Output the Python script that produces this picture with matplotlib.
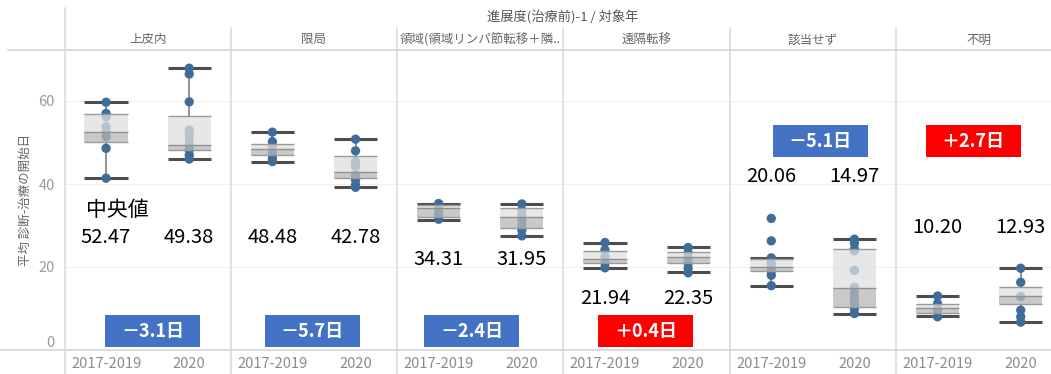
import matplotlib
matplotlib.use("Agg")
import matplotlib.pyplot as plt
from matplotlib.patches import Rectangle
from matplotlib.lines import Line2D

plt.rcParams['font.family'] = ['Noto Sans CJK JP', 'DejaVu Sans']

# ---------- Data ----------
stages = ["上皮内", "限局", "領域(領域リンパ節転移＋隣..", "遠隔転移", "該当せず", "不明"]
years = ["2017-2019", "2020"]

# box stats, one entry per (stage, year), stage-major order
whisker_lo = [41.4, 46.0, 45.4, 39.2, 31.3, 27.5, 19.8, 18.9, 15.5, 8.7, 8.3, 6.7]
q1 = [50.0, 48.2, 46.9, 41.4, 32.0, 29.5, 21.0, 20.9, 19.1, 10.4, 8.8, 11.1]
medians = [52.47, 49.38, 48.48, 42.78, 34.31, 31.95, 21.94, 22.35, 20.06, 14.97, 10.20, 12.93]
q3 = [56.9, 56.4, 49.7, 46.7, 34.9, 34.2, 23.8, 23.7, 22.0, 24.3, 11.2, 15.3]
whisker_hi = [59.8, 67.9, 52.5, 50.8, 35.3, 35.2, 25.9, 24.7, 22.2, 26.7, 13.0, 19.7]

points = [
    [59.7, 57.0, 56.2, 53.8, 52.6, 51.4, 48.6, 41.4],
    [67.9, 66.5, 59.8, 53.0, 51.8, 50.6, 49.4, 48.2, 47.0, 46.0],
    [52.5, 50.2, 49.0, 47.4, 46.2, 45.4],
    [50.8, 48.0, 45.4, 44.2, 42.2, 41.0, 39.8, 39.2],
    [35.3, 34.5, 33.5, 32.5, 31.5],
    [35.2, 33.7, 32.5, 31.3, 30.1, 28.9, 27.5],
    [25.9, 24.1, 22.5, 20.9, 19.8],
    [24.7, 23.4, 22.1, 20.9, 19.7, 18.6],
    [31.7, 26.3, 22.2, 21.0, 20.0, 19.0, 18.0, 15.5],
    [26.7, 25.7, 24.3, 23.9, 19.2, 15.1, 13.7, 12.5, 11.2, 10.0, 8.8],
    [13.0, 11.2, 9.6, 8.0],
    [19.7, 16.3, 12.9, 9.6, 8.0, 6.7],
]

changes = ["－3.1日", "－5.7日", "－2.4日", "＋0.4日", "－5.1日", "＋2.7日"]

# ---------- Figure / layout ----------
W, H = 1051, 374
fig = plt.figure(figsize=(W / 100, H / 100), dpi=100)
ax_left, ax_bottom, ax_top = 64.5, 350, 50
ax = fig.add_axes([ax_left / W, 1 - ax_bottom / H, 1 - ax_left / W, (ax_bottom - ax_top) / H])
panel_px = 166.3
ax.set_xlim(0, 5 + (W - (ax_left + 5 * panel_px)) / panel_px)
ax.set_ylim(0, (ax_bottom - ax_top) / 4.15)

for s in ax.spines.values():
    s.set_visible(False)

# grid
for v in [20, 40, 60]:
    ax.axhline(v, color='#efefef', lw=0.8, zorder=0)

box_w = 0.26
dot_color = '#3f6d99'
offsets = [0.25, 0.75]

for g in range(len(medians)):
    i, j = divmod(g, 2)
    x = i + offsets[j]
    # whiskers
    ax.vlines(x, whisker_lo[g], q1[g], color='#8a8a8a', lw=1.3, zorder=2)
    ax.vlines(x, q3[g], whisker_hi[g], color='#8a8a8a', lw=1.3, zorder=2)
    ax.hlines([whisker_lo[g], whisker_hi[g]], x - box_w / 2, x + box_w / 2,
              color='#4d4d4d', lw=2.2, zorder=2.5)
    # points
    ax.scatter([x] * len(points[g]), points[g], s=45, color=dot_color,
               edgecolors='none', zorder=3)
    # box (two shades)
    ax.bar(x, medians[g] - q1[g], bottom=q1[g], width=box_w, color='#b8b8b8',
           alpha=0.75, zorder=4)
    ax.bar(x, q3[g] - medians[g], bottom=medians[g], width=box_w, color='#dfdfdf',
           alpha=0.75, zorder=4)
    ax.hlines([q1[g], q3[g]], x - box_w / 2, x + box_w / 2, color='#9a9a9a', lw=1.0, zorder=4.5)
    ax.hlines(medians[g], x - box_w / 2, x + box_w / 2, color='#909090', lw=1.0, zorder=4.5)

# median value labels
label_y = [27.2, 27.0, 21.7, 12.3, 41.7, 29.6]
for g in range(len(medians)):
    i, j = divmod(g, 2)
    ax.text(i + offsets[j], label_y[i], f"{medians[g]:.2f}", ha='center', va='center',
            fontsize=14.5, color='black', zorder=6)
ax.text(0.316, 33.7, "中央値", ha='center', va='center', fontsize=15, color='black', zorder=6)

# change boxes
box_x = [0.244, 0.204, 0.162, 0.208, 0.259, 0.18]
for i, txt in enumerate(changes):
    color = '#FF0000' if txt.startswith('＋') else '#4472C4'
    y0 = 0.7 if i < 4 else 46.5
    ax.add_patch(Rectangle((i + box_x[i], y0), 0.57, 7.7, facecolor=color,
                           edgecolor='none', zorder=6))
    ax.text(i + box_x[i] + 0.285, y0 + 3.85, txt, ha='center', va='center',
            fontsize=13, fontweight='bold', color='white', zorder=7)

# ticks
xt, xl = [], []
for i in range(len(stages)):
    for j in range(2):
        xt.append(i + offsets[j])
        xl.append(years[j])
ax.set_xticks(xt, xl)
ax.set_yticks([0, 20, 40, 60], ["0", "20", "40", "60"])
ax.tick_params(axis='x', length=0, pad=5, labelsize=10.5, labelcolor='#8c8c8c')
ax.tick_params(axis='y', length=0, pad=7, labelsize=10.5, labelcolor='#9a9a9a')
ax.get_yticklabels()[0].set_verticalalignment('bottom')

# panel headers and separators
xtr = ax.get_xaxis_transform()
for i, name in enumerate(stages):
    ax.text(i + 0.5, (ax_bottom - 40) / (ax_bottom - ax_top), name, transform=xtr,
            ha='center', va='center', fontsize=9, color='#666666', clip_on=False)
for i in range(1, len(stages)):
    ax.plot([i, i], [(ax_bottom - 28) / 300, (ax_bottom - H) / 300], transform=xtr,
            color='#dcdcdc', lw=1.2, clip_on=False, zorder=1)

line_c = '#d4d4d4'
fig.add_artist(Line2D([8 / W, 1], [1 - ax_top / H] * 2, color=line_c, lw=1.2))
fig.add_artist(Line2D([0, 1], [1 - ax_bottom / H] * 2, color=line_c, lw=1.2))
fig.add_artist(Line2D([ax_left / W] * 2, [0, 1 - 8 / H], color='#dcdcdc', lw=1.2))

fig.text(563 / W, 1 - 18 / H, "進展度(治療前)-1 / 対象年", ha='center', va='center',
         fontsize=9.5, color='#555555')
fig.text(25 / W, 1 - 200 / H, "平均 診断-治療の開始日", rotation=90, ha='center',
         va='center', fontsize=9, color='#666666')

fig.savefig("out.png", dpi=100)
